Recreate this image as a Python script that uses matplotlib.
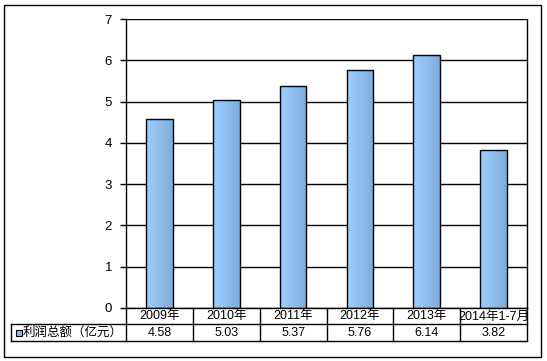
import matplotlib
matplotlib.use("Agg")
import matplotlib.pyplot as plt
import numpy as np
from matplotlib.patches import Rectangle
from matplotlib.colors import LinearSegmentedColormap

plt.rcParams['font.family'] = ['Liberation Sans', 'Noto Sans CJK SC', 'DejaVu Sans']

categories = ["2009年", "2010年", "2011年", "2012年", "2013年", "2014年1-7月"]
values = [4.58, 5.03, 5.37, 5.76, 6.14, 3.82]
value_labels = ["4.58", "5.03", "5.37", "5.76", "6.14", "3.82"]
series_name = "利润总额（亿元）"
yticks = [0, 1, 2, 3, 4, 5, 6, 7]

W, H = 547, 361
fig = plt.figure(figsize=(W / 100, H / 100), dpi=100)

def fx(px):
    return px / W

def fy(py):
    return 1 - py / H

# outer border
fig.add_artist(Rectangle((fx(4), fy(357)), fx(541) - fx(4), fy(5) - fy(357),
                         transform=fig.transFigure, fill=False, lw=1, ec='black'))

left, right, top, bottom = 126, 527, 19, 308
ax = fig.add_axes([fx(left), fy(bottom), fx(right) - fx(left), fy(top) - fy(bottom)])
x = np.arange(len(categories))
ax.set_xlim(-0.5, len(categories) - 0.5)
ax.set_ylim(0, 7)
ax.set_yticks(yticks)
ax.set_yticklabels([str(t) for t in yticks], fontsize=9.5)
ax.set_xticks([])
ax.tick_params(axis='y', length=4, width=1, pad=6, direction='out')
for t in yticks:
    ax.axhline(t, color='black', lw=1, zorder=1)
for s in ['top']:
    ax.spines[s].set_visible(False)
for s in ['left', 'right', 'bottom']:
    ax.spines[s].set_linewidth(1)

cmap = LinearSegmentedColormap.from_list('g', ['#9ccfff', '#8fbeed', '#7fabd9'])
grad = np.linspace(0, 1, 64).reshape(1, -1)
bars = ax.bar(x, values, width=0.4, color='none', edgecolor='black', lw=1, zorder=3)
for b in bars:
    x0, w, h = b.get_x(), b.get_width(), b.get_height()
    im = ax.imshow(grad, cmap=cmap, aspect='auto', extent=[x0, x0 + w, 0, h],
                   zorder=2, interpolation='bilinear')
    im.set_clip_path(b)
ax.set_xlim(-0.5, len(categories) - 0.5)
ax.set_ylim(0, 7)

# data table
row1_top, row_mid, row2_bot = 308, 324, 341
leg_left = 11
lw = 1
def hline(y, x0, x1):
    fig.add_artist(plt.Line2D([fx(x0), fx(x1)], [fy(y), fy(y)], transform=fig.transFigure,
                              color='black', lw=lw))
def vline(xp, y0, y1):
    fig.add_artist(plt.Line2D([fx(xp), fx(xp)], [fy(y0), fy(y1)], transform=fig.transFigure,
                              color='black', lw=lw))

hline(row_mid, leg_left, right)
hline(row2_bot, leg_left, right)
vline(leg_left, row_mid, row2_bot)
n = len(categories)
cw = (right - left) / n
for i in range(n + 1):
    vline(left + i * cw, row1_top, row2_bot)
for i in range(n):
    cx = left + (i + 0.5) * cw
    fig.text(fx(cx), fy((row1_top + row_mid) / 2 + 0.5), categories[i], ha='center', va='center',
             fontsize=9)
    fig.text(fx(cx), fy((row_mid + row2_bot) / 2 + 0.5), value_labels[i], ha='center', va='center',
             fontsize=9)
# legend cell
fig.add_artist(Rectangle((fx(16), fy(336)), fx(6), fy(330) - fy(336), transform=fig.transFigure,
                         facecolor='#8fbeed', edgecolor='black', lw=0.8))
fig.text(fx(23), fy((row_mid + row2_bot) / 2 + 0.5), series_name, ha='left', va='center', fontsize=9)

fig.savefig("out.png", dpi=100)
